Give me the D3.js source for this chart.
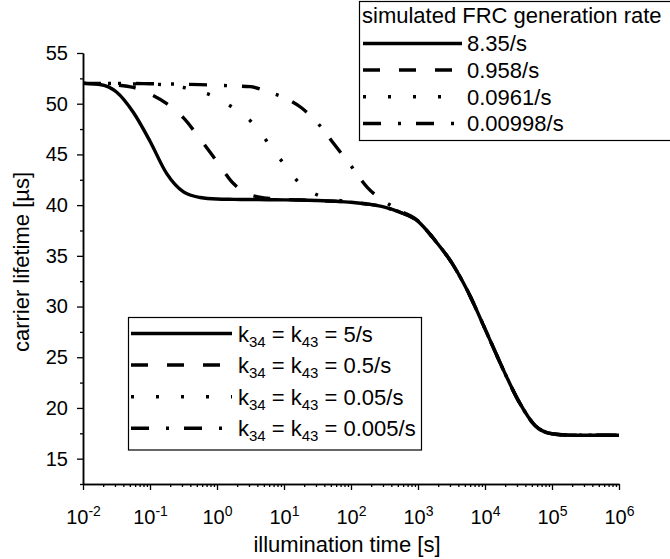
<!DOCTYPE html>
<html><head><meta charset="utf-8">
<script src="https://cdn.jsdelivr.net/npm/d3@7/dist/d3.min.js"></script>
<style>
body{margin:0;background:#fff}
svg{display:block}
text{font-family:"Liberation Sans",Arial,sans-serif;fill:#000}
</style>
</head><body>
<svg id="c" width="670" height="559"></svg>
<script>
// ---- data ----
const exponents = [-2,-1.75,-1.5,-1.25,-1,-0.75,-0.5,-0.25,0,0.25,0.5,0.75,1,1.25,1.5,1.75,2,2.25,2.5,2.75,3,3.25,3.5,3.75,4,4.25,4.5,4.75,5,5.25,5.5,5.75,6];
const rate8_35 =   [52.0,51.9,51.15,49.15,46.3,43.1,41.3,40.75,40.6,40.57,40.55,40.53,40.52,40.5,40.45,40.38,40.28,40.1,39.8,39.25,38.4,36.55,34.35,31.4,27.8,24.1,20.7,18.25,17.45,17.32,17.3,17.3,17.3];
const rate0_958 =  [52.0,51.95,51.85,51.6,50.95,50.0,48.6,46.5,44.3,42.1,41.0,40.68,40.56,40.5,40.45,40.38,40.28,40.1,39.8,39.25,38.4,36.55,34.35,31.4,27.8,24.1,20.7,18.25,17.45,17.32,17.3,17.3,17.3];
const rate0_0961 = [52.0,52.0,51.98,51.95,51.93,51.85,51.6,51.2,50.6,49.55,48.3,46.25,44.05,42.05,41.0,40.55,40.32,40.12,39.8,39.25,38.4,36.55,34.35,31.4,27.8,24.1,20.7,18.25,17.45,17.32,17.3,17.3,17.3];
const rate0_00998 =[52.0,52.0,52.0,52.0,51.97,51.95,51.92,51.88,51.82,51.75,51.68,51.2,50.6,49.65,48.1,46.0,43.87,41.7,40.35,39.4,38.45,36.55,34.35,31.4,27.8,24.1,20.7,18.25,17.45,17.32,17.3,17.3,17.3];
const seriesValues = [rate8_35, rate0_958, rate0_0961, rate0_00998];
const rateLabels = ["8.35/s","0.958/s","0.0961/s","0.00998/s"];
const kLabels = ["5/s","0.5/s","0.05/s","0.005/s"];
const legendTitle = "simulated FRC generation rate";
const yTicks = [15,20,25,30,35,40,45,50,55];
const yMinorTicks = [12.5,17.5,22.5,27.5,32.5,37.5,42.5,47.5,52.5];
const xTickExponents = [-2,-1,0,1,2,3,4,5,6];
const xLabel = "illumination time [s]";
const yLabel = "carrier lifetime [\u00b5s]";

// ---- styles ----
const dashes = [null, "17,19", "3,22", "18,17,3,15"];
const LW = 3.4;

const svg = d3.select("#c");
const x = d3.scaleLog().domain([1e-2, 1e6]).range([83, 619]);
const y = d3.scaleLinear().domain([12.5, 55]).range([484, 53]);

// curves
const line = d3.line()
  .x(d => x(Math.pow(10, d[0])))
  .y(d => y(d[1]))
  .curve(d3.curveMonotoneX);

seriesValues.forEach((vals, i) => {
  const pts = exponents.map((e, j) => [e, vals[j]]);
  svg.append("path")
    .attr("d", line(pts))
    .attr("fill", "none")
    .attr("stroke", "#000")
    .attr("stroke-width", LW)
    .attr("stroke-dasharray", dashes[i])
    .attr("stroke-linecap", "butt");
});

// axes
const xMinor = [];
for (let d = -2; d < 6; d++) for (let m = 2; m <= 9; m++) xMinor.push(m * Math.pow(10, d));

svg.append("g").attr("transform", "translate(0,484)")
  .call(d3.axisBottom(x).tickValues(xMinor).tickSize(3).tickSizeOuter(0).tickFormat(() => ""));
const gx = svg.append("g").attr("transform", "translate(0,484)")
  .call(d3.axisBottom(x).tickValues(xTickExponents.map(e => Math.pow(10, e))).tickSize(6).tickSizeOuter(0).tickPadding(9).tickFormat(() => ""));
gx.selectAll(".tick text").each(function(d, i) {
  const t = d3.select(this).attr("font-size", 20).attr("dy", "1.25em").attr("text-anchor", "middle");
  t.append("tspan").text("10");
  t.append("tspan").attr("font-size", 14).attr("dy", "-8").text(String(xTickExponents[i]));
});

svg.append("g").attr("transform", "translate(83,0)")
  .call(d3.axisLeft(y).tickValues(yMinorTicks).tickSize(3).tickSizeOuter(0).tickFormat(() => ""));
const gy = svg.append("g").attr("transform", "translate(83,0)")
  .call(d3.axisLeft(y).tickValues(yTicks).tickSize(6).tickSizeOuter(0).tickPadding(9));
gy.selectAll(".tick text").attr("font-size", 20);

svg.selectAll(".domain").attr("stroke", "#000").attr("stroke-width", 1.5);
svg.selectAll(".tick line").attr("stroke", "#000").attr("stroke-width", 1.3);

// axis titles
svg.append("text").attr("x", 347).attr("y", 552).attr("text-anchor", "middle")
  .attr("font-size", 22).text(xLabel);
svg.append("text").attr("transform", "translate(29,262) rotate(-90)").attr("text-anchor", "middle")
  .attr("font-size", 22).text(yLabel);

// legend 1 (top right)
const l1 = svg.append("g");
l1.append("rect").attr("x", 359.5).attr("y", 1.5).attr("width", 330).attr("height", 139)
  .attr("fill", "#fff").attr("stroke", "#000").attr("stroke-width", 1.2);
l1.append("text").attr("x", 362).attr("y", 23).attr("font-size", 22).text(legendTitle);
const l1y = [43.5, 70, 96.8, 123.5];
rateLabels.forEach((lab, i) => {
  l1.append("line").attr("x1", 363).attr("x2", 462).attr("y1", l1y[i]).attr("y2", l1y[i])
    .attr("stroke", "#000").attr("stroke-width", LW).attr("stroke-dasharray", dashes[i]);
  l1.append("text").attr("x", 467).attr("y", l1y[i] + 7.8).attr("font-size", 22).text(lab);
});

// legend 2 (bottom left)
const l2 = svg.append("g");
l2.append("rect").attr("x", 128.5).attr("y", 317.5).attr("width", 293).attr("height", 132.5)
  .attr("fill", "#fff").attr("stroke", "#000").attr("stroke-width", 1.2);
const l2y = [333.5, 365, 396.7, 428.3];
kLabels.forEach((lab, i) => {
  l2.append("line").attr("x1", 131).attr("x2", 232).attr("y1", l2y[i]).attr("y2", l2y[i])
    .attr("stroke", "#000").attr("stroke-width", LW).attr("stroke-dasharray", dashes[i]);
  const t = l2.append("text").attr("x", 238).attr("y", l2y[i] + 8).attr("font-size", 22);
  t.append("tspan").text("k");
  t.append("tspan").attr("font-size", 15).attr("dy", 5).text("34");
  t.append("tspan").attr("dy", -5).text(" = k");
  t.append("tspan").attr("font-size", 15).attr("dy", 5).text("43");
  t.append("tspan").attr("dy", -5).text(" = " + lab);
});
</script>
</body></html>
